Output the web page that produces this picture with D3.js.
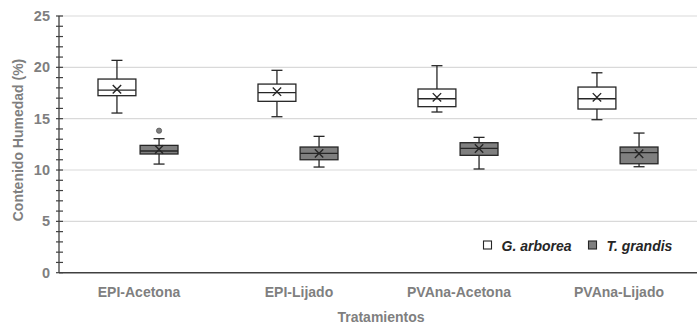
<!DOCTYPE html>
<html><head><meta charset="utf-8">
<script src="https://cdn.jsdelivr.net/npm/d3@7/dist/d3.min.js"></script>
<style>body{margin:0;background:#fff}svg{display:block;font-family:"Liberation Sans",Arial,sans-serif}</style>
</head><body><svg id="c" width="697" height="324"></svg>
<script>
const categories = ["EPI-Acetona","EPI-Lijado","PVAna-Acetona","PVAna-Lijado"];
const seriesNames = ["G. arborea","T. grandis"];
// [min, q1, median, q3, max, mean]
const gArborea = [
  [15.55,17.24,17.79,18.86,20.68,17.86],
  [15.19,16.69,17.53,18.37,19.71,17.63],
  [15.65,16.17,16.94,17.89,20.16,17.08],
  [14.90,15.94,16.94,18.08,19.47,17.08]
];
const tGrandis = [
  [10.58,11.56,11.85,12.40,13.05,12.00],
  [10.29,11.00,11.63,12.24,13.28,11.62],
  [10.10,11.43,12.11,12.66,13.18,12.10],
  [10.32,10.61,11.69,12.24,13.60,11.59]
];
const outliers = [{cat:"EPI-Acetona", s:1, v:13.83}];
const yTicks = [0,5,10,15,20,25];

const svg = d3.select("#c");
const L = 58, R = 698, T = 16, B = 272.7;
const x = d3.scaleBand().domain(categories).range([L,R]);
const y = d3.scaleLinear().domain([0,25]).range([B,T]);
const sub = d3.scaleBand().domain([0,1]).range([40,120]).paddingInner(0.1);
const fills = ["#ffffff","#7f7f7f"];
const stroke = "#262626";
const txt = "#7f7f7f";

// grid
svg.append("g").selectAll("line").data(yTicks.slice(1)).join("line")
  .attr("x1",L).attr("x2",R).attr("y1",d=>y(d)).attr("y2",d=>y(d))
  .attr("stroke","#d9d9d9").attr("stroke-width",1.2);

// y axis
const ya = svg.append("g").attr("transform",`translate(${L+1},0)`);
ya.append("line").attr("y1",y(25)).attr("y2",y(0)).attr("stroke","#404040").attr("stroke-width",1.3);
ya.selectAll(".mt").data(d3.range(0,26)).join("line")
  .attr("x1",-3).attr("x2",4).attr("y1",d=>y(d)).attr("y2",d=>y(d))
  .attr("stroke","#404040").attr("stroke-width",1.2);
ya.selectAll("text").data(yTicks).join("text")
  .attr("x",-9).attr("y",d=>y(d)).attr("dy","0.35em").attr("text-anchor","end")
  .attr("font-size",14.5).attr("font-weight","bold").attr("fill",txt).text(d=>d);

// x axis
svg.append("line").attr("x1",L+1).attr("x2",R).attr("y1",B).attr("y2",B).attr("stroke","#404040").attr("stroke-width",1.5);
svg.append("g").selectAll("text").data(categories).join("text")
  .attr("x",d=>x(d)+x.bandwidth()/2+1).attr("y",297).attr("text-anchor","middle")
  .attr("font-size",14).attr("font-weight","bold").attr("fill",txt).text(d=>d);
svg.append("text").attr("x",381).attr("y",322).attr("text-anchor","middle")
  .attr("font-size",14).attr("font-weight","bold").attr("fill",txt).text("Tratamientos");
svg.append("text").attr("transform",`translate(23,140) rotate(-90)`).attr("text-anchor","middle")
  .attr("font-size",14).attr("font-weight","bold").attr("fill",txt).text("Contenido Humedad (%)");

// boxes
const series = [gArborea, tGrandis];
series.forEach((data,s)=>{
  const g = svg.append("g");
  data.forEach((d,i)=>{
    const bx = x(categories[i]) + sub(s), bw = sub.bandwidth(), cx = bx + bw/2;
    const [mn,q1,md,q3,mx,mean] = d;
    const gg = g.append("g").attr("stroke",stroke).attr("stroke-width",1.3).attr("fill","none");
    gg.append("line").attr("x1",cx).attr("x2",cx).attr("y1",y(mx)).attr("y2",y(q3));
    gg.append("line").attr("x1",cx).attr("x2",cx).attr("y1",y(q1)).attr("y2",y(mn));
    gg.append("line").attr("x1",cx-5.5).attr("x2",cx+5.5).attr("y1",y(mx)).attr("y2",y(mx));
    gg.append("line").attr("x1",cx-5.5).attr("x2",cx+5.5).attr("y1",y(mn)).attr("y2",y(mn));
    gg.append("rect").attr("x",bx).attr("width",bw).attr("y",y(q3)).attr("height",y(q1)-y(q3)).attr("fill",fills[s]);
    gg.append("line").attr("x1",bx).attr("x2",bx+bw).attr("y1",y(md)).attr("y2",y(md));
    const m = 4.2, my = y(mean);
    gg.append("path").attr("d",`M${cx-m},${my-m}L${cx+m},${my+m}M${cx-m},${my+m}L${cx+m},${my-m}`).attr("stroke-width",1.4);
  });
});
svg.append("g").selectAll("circle").data(outliers).join("circle")
  .attr("cx",d=>x(d.cat)+sub(d.s)+sub.bandwidth()/2).attr("cy",d=>y(d.v)).attr("r",2.6)
  .attr("fill","#808080").attr("stroke","#595959").attr("stroke-width",0.8);

// legend
const lg = svg.append("g");
const lx = [483.5, 588.5];
seriesNames.forEach((n,i)=>{
  lg.append("rect").attr("x",lx[i]).attr("y",241).attr("width",8).attr("height",8)
    .attr("fill",fills[i]).attr("stroke",stroke).attr("stroke-width",1.1);
  lg.append("text").attr("x",lx[i]+18).attr("y",251).attr("font-size",14).attr("font-weight","bold")
    .attr("font-style","italic").attr("fill","#262626").text(n);
});
</script></body></html>
